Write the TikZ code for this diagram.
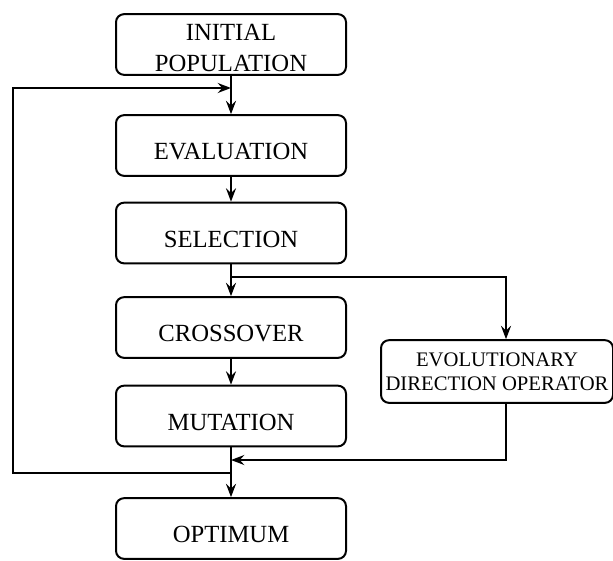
\documentclass[tikz,border=0pt]{standalone}
\usepackage{fontspec}
\setmainfont{Liberation Serif}
\usetikzlibrary{arrows.meta}
\tikzset{every picture/.style={line width=1.5pt}}

\begin{document}
\begin{tikzpicture}[x=0.75pt,y=0.75pt,yscale=-1,xscale=1,
  box/.style={draw,rounded corners=6pt,minimum width=172.5pt,minimum height=45.5pt,inner sep=0.75pt,text height=21.5pt,text depth=0pt,font=\fontsize{18.5}{23}\selectfont},
  twobox/.style={box,align=center,text height=,text depth=},
  edobox/.style={draw,rounded corners=6pt,minimum width=174pt,minimum height=47pt,align=center,inner sep=0.75pt,font=\fontsize{15.5}{18}\selectfont},
  arr/.style={-{Stealth[length=10pt,width=7.5pt,inset=3.5pt]}}]
\useasboundingbox (0,0) rectangle (613,560);
% main column
\node (init) [twobox] at (231,44.5) {\rule{0pt}{17pt}INITIAL\\POPULATION};
\node (eval) [box] at (231,145.5) {EVALUATION};
\node (sel) [box] at (231,233) {SELECTION};
\node (cro) [box] at (231,327.5) {CROSSOVER};
\node (mut) [box] at (231,416) {MUTATION};
\node (opt) [box] at (231,528.5) {OPTIMUM};
\node (edo) [edobox] at (497,371.5) {EVOLUTIONARY\\DIRECTION OPERATOR};
% junctions
\coordinate (top) at (231,88);
\coordinate (split) at (231,277);
\coordinate (splitr) at (506,277);
\coordinate (join) at (231,460);
\coordinate (joinr) at (506,460);
\coordinate (back) at (231,473);
\coordinate (left) at (13,473);
% arrows
\draw[arr] (init) -- (eval);
\draw[arr] (eval) -- (sel);
\draw[arr] (sel) -- (cro);
\draw[arr] (cro) -- (mut);
\draw[arr] (mut) -- (opt);
\draw[arr] (split) -- (splitr) -- (splitr |- edo.north);
\draw[arr] (joinr |- edo.south) -- (joinr) -- (join);
\draw[arr] (back) -- (left) |- (top);
\end{tikzpicture}
\end{document}
